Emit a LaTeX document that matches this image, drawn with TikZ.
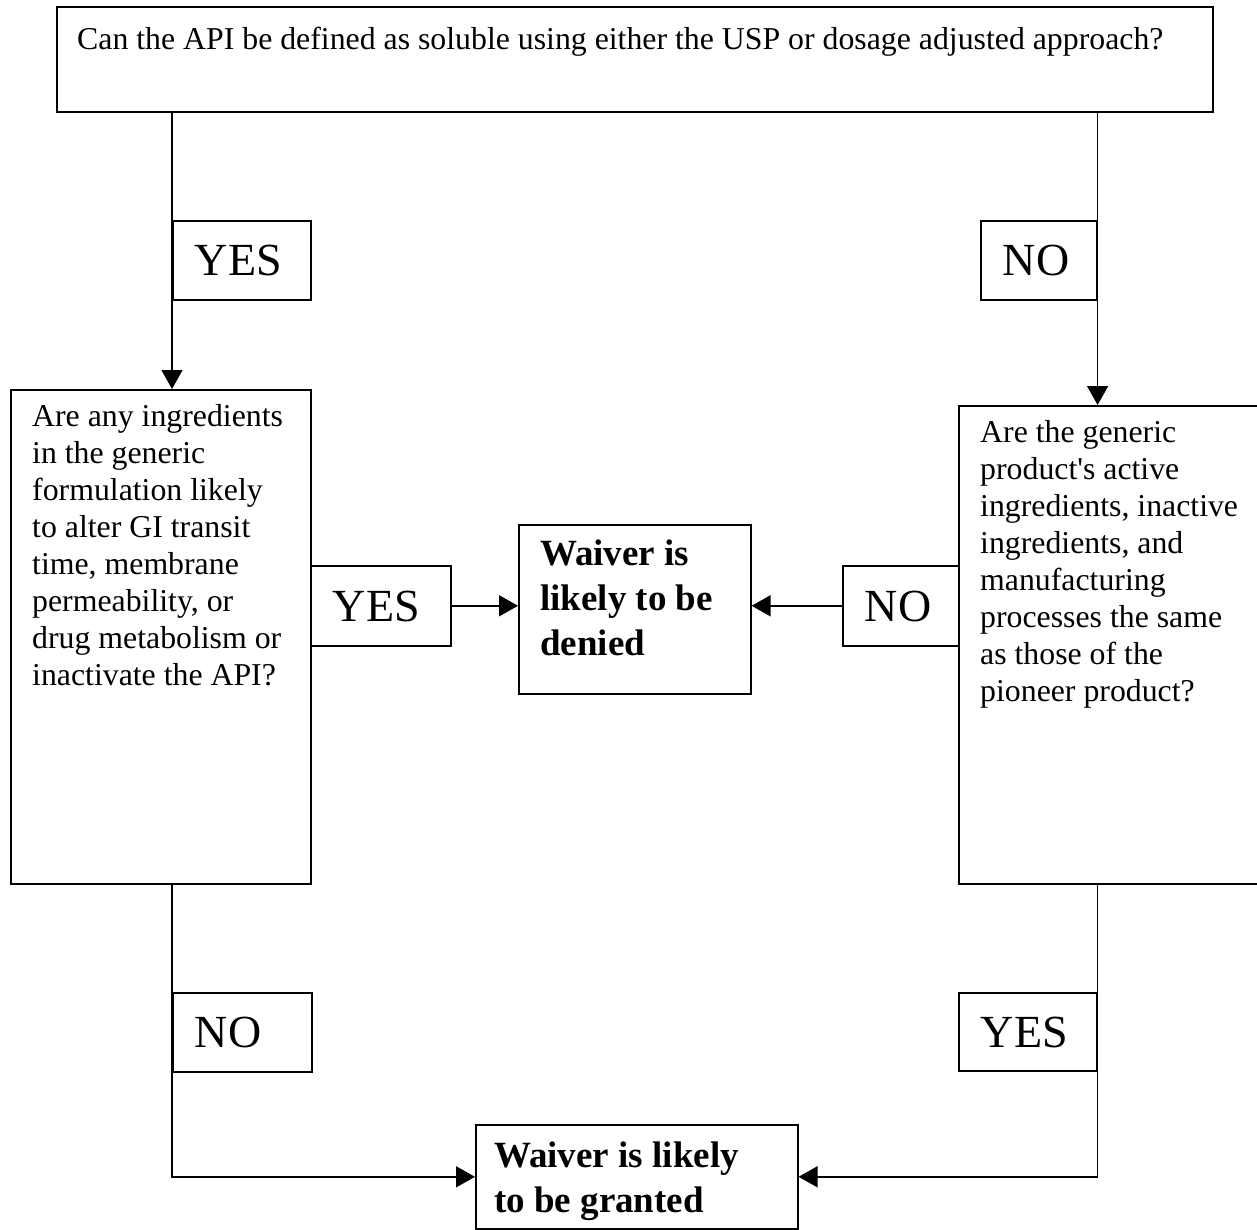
\documentclass[tikz,border=0pt]{standalone}
\usepackage{fontspec}
\setmainfont{Liberation Serif}
\usetikzlibrary{arrows.meta}
\tikzset{
  box/.style={draw, line width=1.6pt, fill=white, inner sep=0pt, anchor=north west},
  lbl/.style={box, font=\fontsize{46pt}{50pt}\selectfont, text height=31pt, text depth=0pt, align=left, inner xsep=22pt, inner ysep=0pt},
  body/.style={inner sep=0pt, anchor=base west, font=\fontsize{31.8pt}{37pt}\selectfont},
  boldtxt/.style={inner sep=0pt, anchor=base west, font=\fontsize{37pt}{45pt}\selectfont\bfseries},
  arr/.style={line width=1.6pt, -{Triangle[length=19pt,width=21pt]}},
}
\begin{document}
\begin{tikzpicture}[x=1pt,y=-1pt]
\useasboundingbox (0,0) rectangle (1257,1230);
\clip (0,0) rectangle (1257,1230);
% boxes
\node[box, minimum width=1156pt, minimum height=105pt] (top) at (56,6) {};
\node[box, minimum width=300pt, minimum height=494pt] (left) at (10,389) {};
\node[box, minimum width=330pt, minimum height=478pt] (right) at (958,405) {};
\node[box, minimum width=232pt, minimum height=169pt] (center) at (518,524) {};
\node[box, minimum width=322pt, minimum height=104pt] (granted) at (475,1124) {};
% labels
\node[lbl, minimum width=138pt, minimum height=79pt, text width=94pt] (yes1) at (172,220) {YES};
\node[lbl, minimum width=116pt, minimum height=79pt, text width=72pt] (no1) at (980,220) {NO};
\node[lbl, minimum width=140pt, minimum height=80pt, text width=96pt] (yes2) at (310,565) {YES};
\node[lbl, minimum width=116pt, minimum height=80pt, text width=72pt] (no2) at (842,565) {NO};
\node[lbl, minimum width=139pt, minimum height=79pt, text width=95pt] (no3) at (172,992) {NO};
\node[lbl, minimum width=138pt, minimum height=78pt, text width=94pt] (yes3) at (958,992) {YES};
% texts
\node[body] (topT) at ([xshift=21pt,yshift=-43.5pt]top.north west) {Can the API be defined as soluble using either the USP or dosage adjusted approach?};
\node[body] (leftT) at ([xshift=22pt,yshift=-37pt]left.north west) {\parbox[t]{280pt}{\raggedright Are any ingredients\\in the generic\\formulation likely\\to alter GI transit\\time, membrane\\permeability, or\\drug metabolism or\\inactivate the API?}};
\node[body] (rightT) at ([xshift=22pt,yshift=-37pt]right.north west) {\parbox[t]{290pt}{\raggedright Are the generic\\product\textquotesingle s active\\ingredients, inactive\\ingredients, and\\manufacturing\\processes the same\\as those of the\\pioneer product?}};
\node[boldtxt] (centerT) at ([xshift=22pt,yshift=-41pt]center.north west) {\parbox[t]{210pt}{\raggedright Waiver is\\likely to be\\denied}};
\node[boldtxt] (grantedT) at ([xshift=19pt,yshift=-43pt]granted.north west) {\parbox[t]{300pt}{\raggedright Waiver is likely\\to be granted}};
% connectors
\draw[arr] (top.south -| yes1.west) -- (left.north -| yes1.west);
\draw[arr] (top.south -| no1.east) -- (right.north -| no1.east);
\draw[arr] (yes2.east) -- (yes2.east -| center.west);
\draw[arr] (no2.west) -- (no2.west -| center.east);
\draw[arr] (left.south -| no3.west) |- (granted.west);
\draw[arr] (right.south -| yes3.east) |- (granted.east);
\end{tikzpicture}
\end{document}
